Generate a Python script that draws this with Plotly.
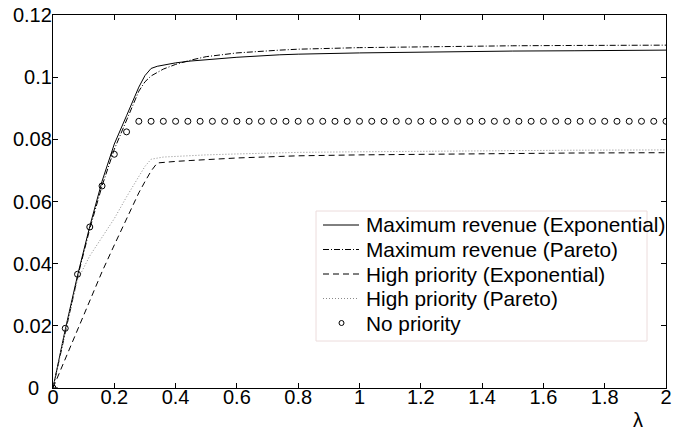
import plotly.graph_objects as go

# Arrival rate (lambda) grids
lam_curve = [0, 0.04, 0.08, 0.12, 0.16, 0.2, 0.24, 0.26, 0.28, 0.3, 0.32, 0.34, 0.36, 0.4, 0.45,
             0.5, 0.6, 0.74, 0.8, 1.0, 1.2, 1.4, 1.5, 1.7, 2.0]

# Revenue rate for each policy
rev_max_exp = [0, 0.0188, 0.0362, 0.052, 0.0665, 0.0785, 0.0876, 0.0922, 0.0968, 0.1005, 0.1028,
               0.1035, 0.1039, 0.1046, 0.1052, 0.1056, 0.1064, 0.1072, 0.1074, 0.1078, 0.1081,
               0.1083, 0.1084, 0.1085, 0.1087]
rev_max_par = [0, 0.0182, 0.0356, 0.0512, 0.065, 0.0768, 0.0862, 0.0908, 0.0955, 0.0985, 0.1004,
               0.1015, 0.1026, 0.1041, 0.1055, 0.1066, 0.1078, 0.1087, 0.109, 0.1095, 0.1098,
               0.11, 0.1101, 0.1102, 0.1103]
rev_high_exp = [0, 0.0095, 0.0188, 0.0282, 0.0374, 0.046, 0.0545, 0.0586, 0.0628, 0.0664, 0.0698,
                0.0724, 0.0726, 0.0729, 0.0732, 0.0735, 0.074, 0.0745, 0.0747, 0.075, 0.0752,
                0.0754, 0.0755, 0.0756, 0.0757]
rev_high_par = [0, 0.0182, 0.0348, 0.0425, 0.0485, 0.0545, 0.0615, 0.0648, 0.068, 0.0713, 0.0736,
                0.074, 0.0743, 0.0745, 0.0748, 0.075, 0.0753, 0.0757, 0.0758, 0.076, 0.0762,
                0.0763, 0.0764, 0.0765, 0.0766]

lam_np = [0, 0.04, 0.08, 0.12, 0.16, 0.2, 0.24, 0.28, 0.32, 0.36, 0.4, 0.44, 0.48, 0.52, 0.56,
          0.6, 0.64, 0.68, 0.72, 0.76, 0.8, 0.84, 0.88, 0.92, 0.96, 1.0, 1.04, 1.08, 1.12, 1.16,
          1.2, 1.24, 1.28, 1.32, 1.36, 1.4, 1.44, 1.48, 1.52, 1.56, 1.6, 1.64, 1.68, 1.72, 1.76,
          1.8, 1.84, 1.88, 1.92, 1.96, 2.0]
rev_no_priority = [0, 0.0192, 0.0366, 0.0518, 0.065, 0.0752, 0.0824, 0.0858, 0.0858, 0.0858,
                   0.0858, 0.0858, 0.0858, 0.0858, 0.0858, 0.0858, 0.0858, 0.0858, 0.0858, 0.0858,
                   0.0858, 0.0858, 0.0858, 0.0858, 0.0858, 0.0858, 0.0858, 0.0858, 0.0858, 0.0858,
                   0.0858, 0.0858, 0.0858, 0.0858, 0.0858, 0.0858, 0.0858, 0.0858, 0.0858, 0.0858,
                   0.0858, 0.0858, 0.0858, 0.0858, 0.0858, 0.0858, 0.0858, 0.0858, 0.0858, 0.0858,
                   0.0858]

x_ticks = [0, 0.2, 0.4, 0.6, 0.8, 1, 1.2, 1.4, 1.6, 1.8, 2]
x_tick_text = ["0", "0.2", "0.4", "0.6", "0.8", "1", "1.2", "1.4", "1.6", "1.8", "2"]
y_ticks = [0, 0.02, 0.04, 0.06, 0.08, 0.1, 0.12]
y_tick_text = ["0", "0.02", "0.04", "0.06", "0.08", "0.1", "0.12"]

series_names = ["Maximum revenue (Exponential)", "Maximum revenue (Pareto)",
                "High priority (Exponential)", "High priority (Pareto)", "No priority"]

FONT = "Arial, 'Liberation Sans', sans-serif"
FS = 20
FS_LEG = 20.8

# Figure geometry (pixels)
W, H = 674, 434
ML, MR, MT, MB = 53, 8, 15, 46
PW, PH = W - ML - MR, H - MT - MB


def px_x(px):
    return (px - ML) / PW


def px_y(py):
    return (H - MB - py) / PH


line_styles = [
    dict(color="black", width=1),
    dict(color="black", width=1, dash="6px,2px,1px,2px"),
    dict(color="black", width=1, dash="6px,4px"),
    dict(color="#8a8a8a", width=1, dash="1px,2px"),
]
curves = [rev_max_exp, rev_max_par, rev_high_exp, rev_high_par]

fig = go.Figure()
for name, ys, st in zip(series_names[:4], curves, line_styles):
    fig.add_trace(go.Scatter(x=lam_curve, y=ys, mode="lines", name=name,
                             line=st, showlegend=False))
fig.add_trace(go.Scatter(x=lam_np, y=rev_no_priority, mode="markers",
                         name=series_names[4], showlegend=False,
                         marker=dict(symbol="circle-open", size=6, color="black",
                                     line=dict(width=1, color="black"))))

axis_common = dict(showline=True, linecolor="black", linewidth=1.3, mirror="ticks",
                   ticks="inside", ticklen=5, tickcolor="black", showgrid=False,
                   zeroline=False, automargin=False,
                   tickfont=dict(family=FONT, size=FS, color="black"))

fig.update_xaxes(range=[0, 2], tickvals=x_ticks, ticktext=x_tick_text,
                 ticklabelstandoff=-9, **axis_common)
# the y-axis zero label is set a little further left (below), clear of the x-axis "0"
fig.update_yaxes(range=[0, 0.12], tickvals=y_ticks[1:], ticktext=y_tick_text[1:],
                 ticklabelstandoff=-4, **axis_common)
fig.add_shape(type="line", xref="paper", yref="y", x0=0, x1=5 / PW, y0=y_ticks[0],
              y1=y_ticks[0], line=dict(color="black", width=1))
fig.add_annotation(text=y_tick_text[0], x=px_x(41), y=y_ticks[0], xref="paper", yref="y",
                   xanchor="right", yanchor="middle", showarrow=False,
                   font=dict(family=FONT, size=FS, color="black"))

# Axis label
fig.add_annotation(text="λ", x=px_x(638), y=px_y(420), xref="paper", yref="paper",
                   xanchor="center", yanchor="middle", showarrow=False,
                   font=dict(family=FONT, size=FS, color="black"))

# Legend box with line samples and labels
shapes = [dict(type="rect", xref="paper", yref="paper",
               x0=px_x(316), x1=px_x(647), y0=px_y(341), y1=px_y(211),
               line=dict(color="#ecdcdc", width=1), fillcolor="white", layer="above")]
row_y = [225, 249.5, 274, 298.5, 323]
for i, name in enumerate(series_names):
    if i < 4:
        shapes.append(dict(type="line", xref="paper", yref="paper",
                           x0=px_x(323), x1=px_x(359), y0=px_y(row_y[i]), y1=px_y(row_y[i]),
                           line=line_styles[i], layer="above"))
    else:
        shapes.append(dict(type="circle", xref="paper", yref="paper",
                           xsizemode="pixel", ysizemode="pixel",
                           xanchor=px_x(341.5), yanchor=px_y(row_y[i]),
                           x0=-2.5, x1=2.5, y0=-2.5, y1=2.5,
                           line=dict(color="black", width=1), layer="above"))
    fig.add_annotation(text=name, x=px_x(364), y=px_y(row_y[i]), xref="paper", yref="paper",
                       xanchor="left", yanchor="middle", showarrow=False,
                       font=dict(family=FONT, size=FS_LEG, color="black"))
for s in shapes:
    fig.add_shape(**s)

fig.update_layout(
    width=W, height=H,
    margin=dict(l=ML, r=MR, t=MT, b=MB),
    paper_bgcolor="white", plot_bgcolor="white",
    font=dict(family=FONT, size=FS, color="black"),
    showlegend=False,
)

fig.write_html("out.html")
